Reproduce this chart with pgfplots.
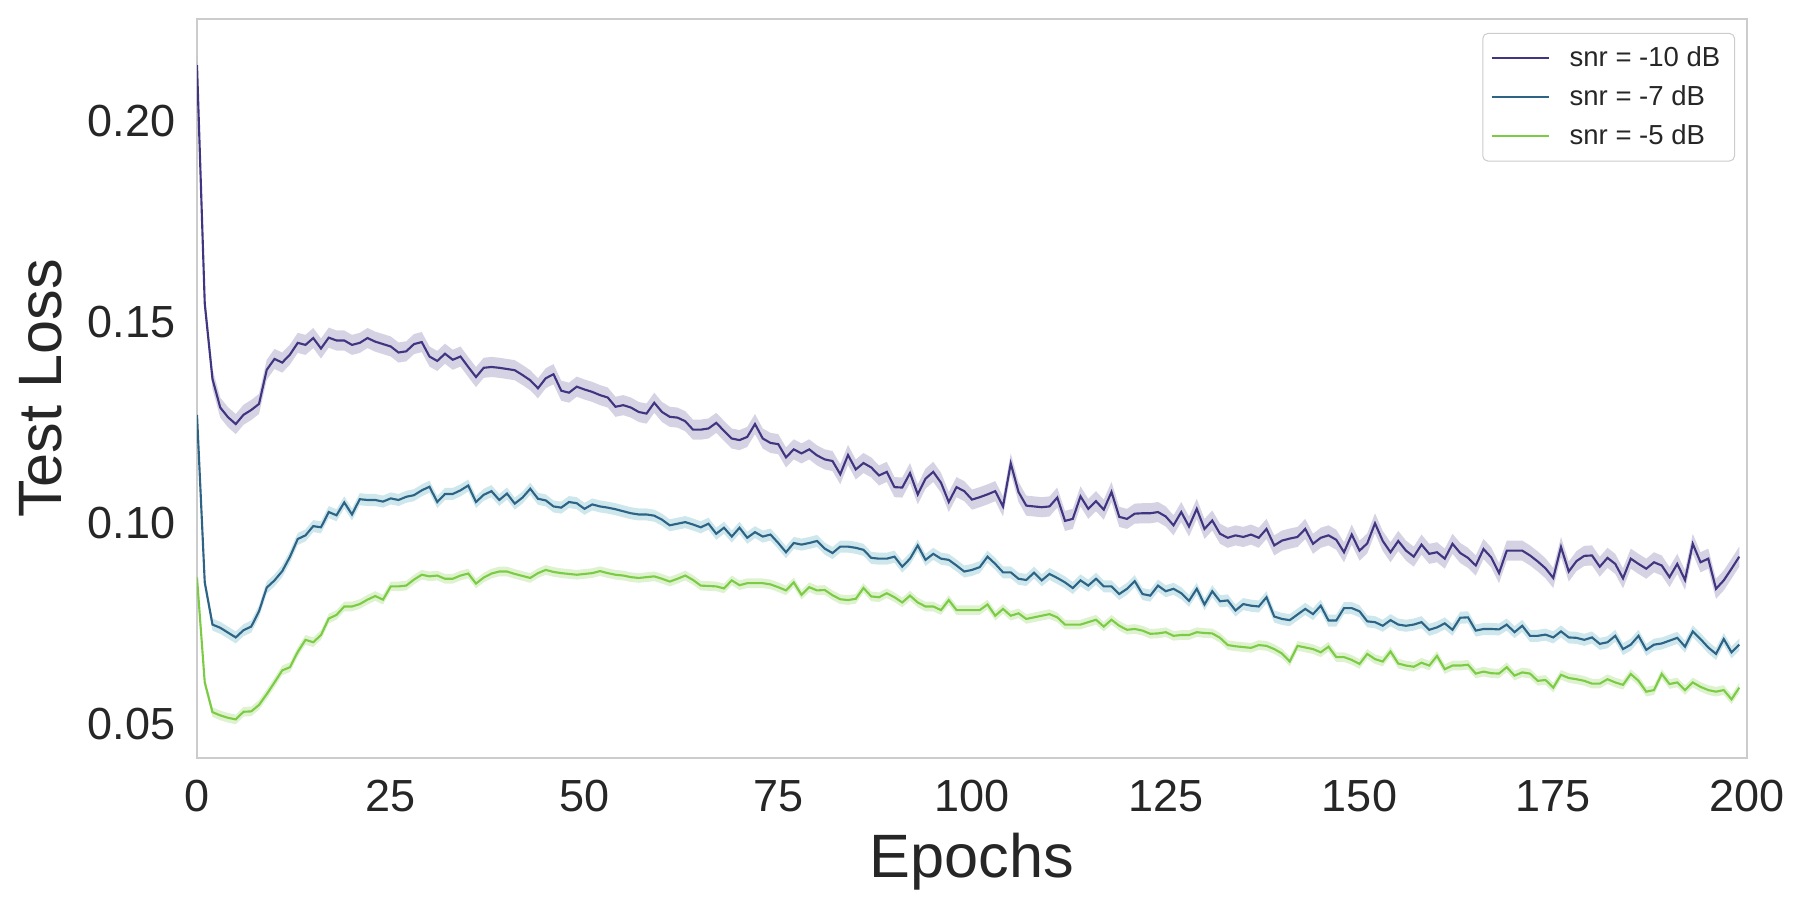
\documentclass[border=0pt]{standalone}
\usepackage{fontspec}
\setmainfont{Liberation Sans}
\usepackage{pgfplots}
\usepackage{pgfplotstable}
\pgfplotsset{compat=1.18}
\usepgfplotslibrary{fillbetween}
\definecolor{textgray}{HTML}{262626}
\definecolor{cA}{HTML}{3F3580}
\definecolor{cB}{HTML}{2D6385}
\definecolor{cC}{HTML}{7CCB45}
\definecolor{frame}{HTML}{CCCCCC}
\pgfplotstableread{
e a b c
0 0.2140 0.1270 0.0865
1 0.1547 0.0853 0.0604
2 0.1359 0.0748 0.0530
3 0.1288 0.0740 0.0522
4 0.1264 0.0728 0.0516
5 0.1247 0.0716 0.0512
6 0.1270 0.0734 0.0531
7 0.1282 0.0743 0.0532
8 0.1297 0.0781 0.0548
9 0.1382 0.0840 0.0575
10 0.1409 0.0858 0.0604
11 0.1400 0.0881 0.0634
12 0.1420 0.0917 0.0642
13 0.1449 0.0961 0.0680
14 0.1444 0.0970 0.0710
15 0.1461 0.0993 0.0704
16 0.1435 0.0990 0.0722
17 0.1462 0.1028 0.0763
18 0.1455 0.1020 0.0772
19 0.1455 0.1052 0.0793
20 0.1444 0.1022 0.0793
21 0.1449 0.1060 0.0799
22 0.1461 0.1058 0.0810
23 0.1452 0.1058 0.0819
24 0.1446 0.1054 0.0810
25 0.1440 0.1062 0.0843
26 0.1425 0.1058 0.0843
27 0.1428 0.1066 0.0845
28 0.1446 0.1070 0.0860
29 0.1451 0.1082 0.0872
30 0.1415 0.1091 0.0868
31 0.1404 0.1053 0.0870
32 0.1422 0.1073 0.0862
33 0.1407 0.1073 0.0862
34 0.1415 0.1082 0.0870
35 0.1389 0.1094 0.0875
36 0.1364 0.1053 0.0850
37 0.1387 0.1071 0.0865
38 0.1389 0.1080 0.0875
39 0.1387 0.1058 0.0880
40 0.1384 0.1074 0.0880
41 0.1381 0.1049 0.0874
42 0.1369 0.1064 0.0869
43 0.1356 0.1086 0.0864
44 0.1336 0.1061 0.0876
45 0.1361 0.1057 0.0884
46 0.1371 0.1042 0.0879
47 0.1330 0.1039 0.0876
48 0.1325 0.1053 0.0874
49 0.1340 0.1050 0.0872
50 0.1333 0.1036 0.0874
51 0.1327 0.1047 0.0876
52 0.1319 0.1042 0.0881
53 0.1313 0.1039 0.0876
54 0.1290 0.1035 0.0872
55 0.1294 0.1030 0.0870
56 0.1288 0.1025 0.0866
57 0.1277 0.1022 0.0864
58 0.1273 0.1022 0.0866
59 0.1300 0.1019 0.0868
60 0.1277 0.1009 0.0862
61 0.1265 0.0995 0.0855
62 0.1263 0.0999 0.0862
63 0.1254 0.1003 0.0870
64 0.1233 0.0997 0.0859
65 0.1233 0.0990 0.0845
66 0.1236 0.0999 0.0844
67 0.1250 0.0974 0.0843
68 0.1230 0.0989 0.0838
69 0.1211 0.0967 0.0858
70 0.1207 0.0989 0.0846
71 0.1215 0.0964 0.0851
72 0.1247 0.0978 0.0851
73 0.1211 0.0967 0.0851
74 0.1200 0.0972 0.0848
75 0.1197 0.0951 0.0841
76 0.1164 0.0928 0.0833
77 0.1184 0.0951 0.0853
78 0.1174 0.0947 0.0822
79 0.1184 0.0951 0.0841
80 0.1169 0.0956 0.0833
81 0.1159 0.0937 0.0834
82 0.1155 0.0926 0.0821
83 0.1122 0.0942 0.0811
84 0.1170 0.0942 0.0809
85 0.1134 0.0939 0.0812
86 0.1150 0.0934 0.0839
87 0.1139 0.0914 0.0818
88 0.1119 0.0912 0.0816
89 0.1128 0.0912 0.0826
90 0.1090 0.0917 0.0816
91 0.1089 0.0892 0.0803
92 0.1125 0.0912 0.0820
93 0.1072 0.0945 0.0803
94 0.1111 0.0909 0.0793
95 0.1128 0.0924 0.0793
96 0.1101 0.0912 0.0784
97 0.1053 0.0909 0.0809
98 0.1090 0.0895 0.0784
99 0.1080 0.0880 0.0784
100 0.1059 0.0884 0.0784
101 0.1065 0.0891 0.0784
102 0.1072 0.0917 0.0798
103 0.1080 0.0899 0.0770
104 0.1042 0.0878 0.0787
105 0.1149 0.0878 0.0770
106 0.1078 0.0862 0.0776
107 0.1044 0.0859 0.0762
108 0.1042 0.0877 0.0766
109 0.1040 0.0858 0.0770
110 0.1042 0.0874 0.0774
111 0.1064 0.0864 0.0766
112 0.1006 0.0853 0.0748
113 0.1011 0.0839 0.0748
114 0.1067 0.0858 0.0748
115 0.1036 0.0845 0.0754
116 0.1055 0.0862 0.0760
117 0.1034 0.0843 0.0743
118 0.1078 0.0843 0.0760
119 0.1016 0.0824 0.0745
120 0.1011 0.0837 0.0735
121 0.1024 0.0856 0.0737
122 0.1025 0.0824 0.0733
123 0.1025 0.0820 0.0725
124 0.1028 0.0845 0.0726
125 0.1017 0.0831 0.0729
126 0.0995 0.0837 0.0720
127 0.1028 0.0826 0.0722
128 0.0992 0.0807 0.0722
129 0.1036 0.0837 0.0729
130 0.0986 0.0798 0.0727
131 0.1007 0.0831 0.0726
132 0.0974 0.0806 0.0715
133 0.0964 0.0808 0.0697
134 0.0970 0.0783 0.0694
135 0.0966 0.0799 0.0692
136 0.0972 0.0795 0.0690
137 0.0964 0.0793 0.0697
138 0.0986 0.0816 0.0695
139 0.0945 0.0768 0.0687
140 0.0957 0.0762 0.0676
141 0.0962 0.0759 0.0656
142 0.0966 0.0773 0.0695
143 0.0986 0.0787 0.0691
144 0.0949 0.0774 0.0687
145 0.0964 0.0795 0.0679
146 0.0970 0.0758 0.0693
147 0.0959 0.0758 0.0667
148 0.0928 0.0789 0.0667
149 0.0972 0.0789 0.0660
150 0.0932 0.0781 0.0650
151 0.0950 0.0756 0.0675
152 0.1000 0.0754 0.0662
153 0.0956 0.0745 0.0656
154 0.0928 0.0759 0.0681
155 0.0956 0.0748 0.0651
156 0.0932 0.0745 0.0646
157 0.0917 0.0748 0.0643
158 0.0947 0.0754 0.0653
159 0.0924 0.0735 0.0646
160 0.0928 0.0741 0.0670
161 0.0912 0.0751 0.0637
162 0.0949 0.0735 0.0646
163 0.0926 0.0765 0.0646
164 0.0914 0.0766 0.0648
165 0.0895 0.0733 0.0626
166 0.0936 0.0737 0.0631
167 0.0915 0.0737 0.0627
168 0.0876 0.0736 0.0626
169 0.0932 0.0748 0.0642
170 0.0932 0.0729 0.0621
171 0.0932 0.0745 0.0629
172 0.0920 0.0720 0.0626
173 0.0905 0.0720 0.0608
174 0.0888 0.0723 0.0610
175 0.0864 0.0716 0.0591
176 0.0941 0.0731 0.0623
177 0.0880 0.0716 0.0615
178 0.0906 0.0715 0.0612
179 0.0919 0.0710 0.0608
180 0.0920 0.0716 0.0601
181 0.0892 0.0700 0.0601
182 0.0914 0.0704 0.0612
183 0.0899 0.0720 0.0604
184 0.0863 0.0687 0.0598
185 0.0912 0.0698 0.0625
186 0.0899 0.0720 0.0608
187 0.0887 0.0685 0.0581
188 0.0903 0.0698 0.0585
189 0.0895 0.0701 0.0625
190 0.0866 0.0708 0.0600
191 0.0899 0.0715 0.0604
192 0.0859 0.0693 0.0585
193 0.0949 0.0731 0.0604
194 0.0903 0.0712 0.0593
195 0.0912 0.0691 0.0585
196 0.0837 0.0675 0.0581
197 0.0858 0.0712 0.0585
198 0.0887 0.0679 0.0562
199 0.0917 0.0698 0.0591
}\data
\begin{document}
\begin{tikzpicture}
\begin{axis}[
  at={(0pt,0pt)}, anchor=south west,
  scale only axis, width=620pt, height=295.6pt,
  xmin=0, xmax=200, ymin=0.0416, ymax=0.2255,
  xtick={0,25,...,200}, ytick={0.05,0.10,0.15,0.20},
  major tick length=0pt,
  axis line style={draw=frame, line width=0.9pt},
  /pgf/number format/assume math mode=true,
  y tick label style={/pgf/number format/fixed, /pgf/number format/fixed zerofill, /pgf/number format/precision=2},
  ticklabel style={font=\fontsize{18}{20}\selectfont, text=textgray},
  yticklabel style={inner sep=0pt, xshift=-8.4pt},
  xticklabel style={inner sep=0pt, yshift=-8.8pt},
  xlabel={Epochs}, ylabel={Test Loss},
  label style={font=\fontsize{24.5}{27}\selectfont, text=textgray, inner sep=0pt},
  xlabel style={at={(axis description cs:0.5,-0.1015)}, anchor=north},
  ylabel style={at={(axis description cs:-0.0865,0.5)}, anchor=south},
  legend cell align=left,
  legend image code/.code={\draw[#1] (0pt,0pt) -- (22.8pt,0pt); \path (28.2pt,0pt);},
  legend style={at={(axis description cs:1,1)}, anchor=north east,
    xshift=-4.8pt, yshift=-5.6pt, draw=black!20, rounded corners=2pt,
    fill=white, fill opacity=0.8, text opacity=1, draw opacity=1,
    font=\fontsize{11}{13}\selectfont, text=textgray,
    inner xsep=3.1pt, inner ysep=2pt,
    nodes={inner xsep=2.6pt, inner ysep=3.1pt}},
]
\addplot[name path=au, draw=none, forget plot] table[x=e, y expr=\thisrow{a}+0.0025] {\data};
\addplot[name path=al, draw=none, forget plot] table[x=e, y expr=\thisrow{a}-0.0025] {\data};
\addplot[fill=cA, fill opacity=0.22, draw=none, forget plot] fill between[of=au and al];
\addplot[name path=bu, draw=none, forget plot] table[x=e, y expr=\thisrow{b}+0.0015] {\data};
\addplot[name path=bl, draw=none, forget plot] table[x=e, y expr=\thisrow{b}-0.0015] {\data};
\addplot[fill=cB!70!cyan, fill opacity=0.22, draw=none, forget plot] fill between[of=bu and bl];
\addplot[name path=cu, draw=none, forget plot] table[x=e, y expr=\thisrow{c}+0.0012] {\data};
\addplot[name path=cl, draw=none, forget plot] table[x=e, y expr=\thisrow{c}-0.0012] {\data};
\addplot[fill=cC, fill opacity=0.25, draw=none, forget plot] fill between[of=cu and cl];
\addplot[cA, line width=0.85pt] table[x=e, y=a] {\data};
\addlegendentry{snr = -10 dB}
\addplot[cB, line width=0.85pt] table[x=e, y=b] {\data};
\addlegendentry{snr = -7 dB}
\addplot[cC, line width=0.85pt] table[x=e, y=c] {\data};
\addlegendentry{snr = -5 dB}
\end{axis}
\path (-78.8pt,-59.6pt) rectangle (643.6pt,303.2pt);
\end{tikzpicture}
\end{document}
